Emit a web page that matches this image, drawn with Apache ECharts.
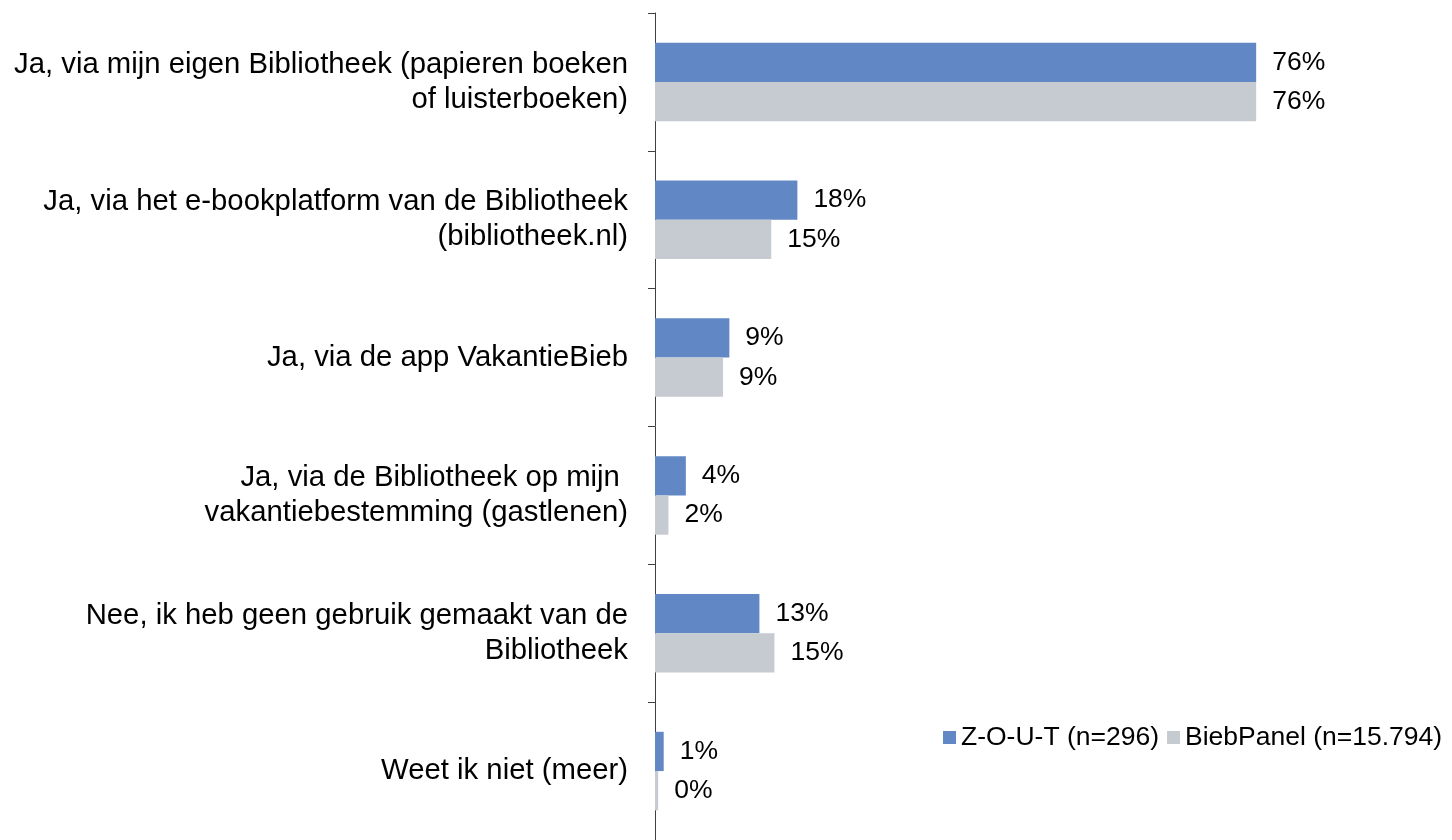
<!DOCTYPE html>
<html>
<head>
<meta charset="utf-8">
<script src="https://cdn.jsdelivr.net/npm/echarts@6/dist/echarts.min.js"></script>
<style>
  html, body { margin: 0; padding: 0; background: #fff; }
  #chart { width: 1452px; height: 840px; }
</style>
</head>
<body>
<div id="chart"></div>
<script>
// categorieën (van boven naar beneden)
const categories = [
  "Ja, via mijn eigen Bibliotheek (papieren boeken\nof luisterboeken)",
  "Ja, via het e-bookplatform van de Bibliotheek\n(bibliotheek.nl)",
  "Ja, via de app VakantieBieb",
  "Ja, via de Bibliotheek op mijn \nvakantiebestemming (gastlenen)",
  "Nee, ik heb geen gebruik gemaakt van de\nBibliotheek",
  "Weet ik niet (meer)"
];
const seriesNames = ["Z-O-U-T (n=296)", "BiebPanel (n=15.794)"];
const zoutValues = [76, 18, 9.4, 3.9, 13.2, 1.1];
const biebValues = [76, 14.7, 8.6, 1.7, 15.1, 0.4];

const chart = echarts.init(document.getElementById("chart"));

const FONT = "Liberation Sans, Arial";

const labelStyle = {
  show: true,
  position: "right",
  distance: 16,
  padding: [5, 0, 0, 0],
  fontFamily: FONT,
  fontSize: 26.5,
  color: "#000",
  formatter: (p) => Math.round(p.value) + "%"
};

const option = {
  animation: false,
  textStyle: { fontFamily: FONT },
  grid: { left: 655, right: 6, top: 13, bottom: 0, containLabel: false },
  legend: {
    left: 938,
    top: 719,
    itemWidth: 13,
    itemHeight: 13,
    itemGap: 8,
    icon: "rect",
    textStyle: { fontSize: 26.5, color: "#000", fontFamily: FONT },
    data: seriesNames
  },
  xAxis: {
    type: "value",
    min: 0,
    max: 100,
    show: false
  },
  yAxis: {
    type: "category",
    inverse: true,
    data: categories,
    axisLine: { lineStyle: { color: "#404040", width: 1 } },
    axisTick: { show: true, length: 7, lineStyle: { color: "#404040" } },
    axisLabel: {
      margin: 27,
      fontSize: 29.3,
      lineHeight: 35,
      padding: [5, 0, 0, 0],
      color: "#000",
      align: "right",
      fontFamily: FONT
    }
  },
  series: [
    {
      name: seriesNames[0],
      type: "bar",
      data: zoutValues,
      barGap: "0%",
      barCategoryGap: "43%",
      itemStyle: { color: "#6287C5" },
      label: labelStyle
    },
    {
      name: seriesNames[1],
      type: "bar",
      data: biebValues,
      itemStyle: { color: "#C6CBD1" },
      label: labelStyle
    }
  ]
};

option && chart.setOption(option);
</script>
</body>
</html>
